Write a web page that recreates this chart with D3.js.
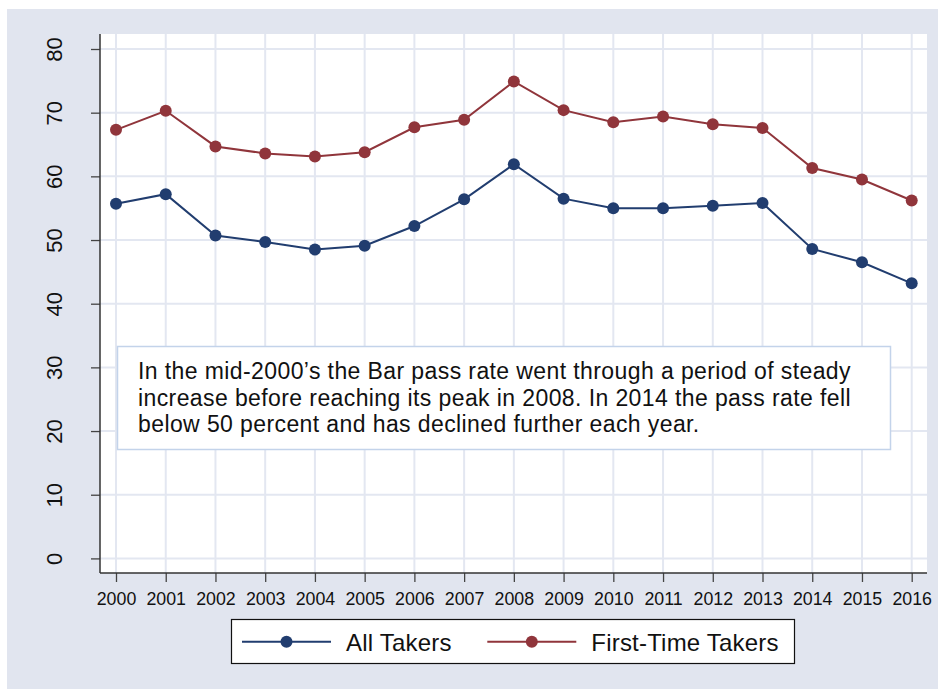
<!DOCTYPE html>
<html>
<head>
<meta charset="utf-8">
<script src="https://cdn.jsdelivr.net/npm/d3@7"></script>
<style>
  body { margin: 0; background: #fff; }
  text { font-family: "Liberation Sans", Arial, sans-serif; fill: #111; }
</style>
</head>
<body>
<div class="module"></div>
<script>
// data
const years = [2000, 2001, 2002, 2003, 2004, 2005, 2006, 2007, 2008, 2009, 2010, 2011, 2012, 2013, 2014, 2015, 2016];
const allTakers = [55.7, 57.2, 50.7, 49.7, 48.5, 49.1, 52.2, 56.4, 61.9, 56.5, 55.0, 55.0, 55.4, 55.8, 48.6, 46.5, 43.2];
const firstTime = [67.3, 70.3, 64.7, 63.6, 63.1, 63.8, 67.7, 68.9, 74.9, 70.4, 68.5, 69.4, 68.2, 67.6, 61.3, 59.5, 56.2];
const yTicks = [0, 10, 20, 30, 40, 50, 60, 70, 80];
const seriesNames = ["All Takers", "First-Time Takers"];
const seriesColors = ["#213d6f", "#90353b"];
const note = [
  "In the mid-2000\u2019s the Bar pass rate went through a period of steady",
  "increase before reaching its peak in 2008. In 2014 the pass rate fell",
  "below 50 percent and has declined further each year."
];

const W = 938, H = 690;
const plot = {left: 100, top: 34, right: 927, bottom: 573};

const svg = d3.select(".module")
  .append("svg")
    .attr("width", W)
    .attr("height", H);

// graph region background
svg.append("rect")
    .attr("x", 7).attr("y", 9)
    .attr("width", W - 7).attr("height", H - 10)
    .attr("fill", "#e1e5ef");

// plot region
svg.append("rect")
    .attr("x", plot.left).attr("y", plot.top)
    .attr("width", plot.right - plot.left)
    .attr("height", plot.bottom - plot.top)
    .attr("fill", "#fff");

const x = d3.scaleLinear()
    .domain([2000, 2016])
    .range([116, 911.7]);

const y = d3.scaleLinear()
    .domain([0, 80])
    .range([558.4, 49]);

// grid lines
svg.append("g")
  .selectAll("line")
  .data(years)
  .enter()
  .append("line")
    .attr("x1", d => x(d)).attr("x2", d => x(d))
    .attr("y1", plot.top).attr("y2", plot.bottom)
    .attr("stroke", "#e3e7f1")
    .attr("stroke-width", 2);

svg.append("g")
  .selectAll("line")
  .data(yTicks)
  .enter()
  .append("line")
    .attr("x1", plot.left).attr("x2", plot.right)
    .attr("y1", d => y(d)).attr("y2", d => y(d))
    .attr("stroke", "#e3e7f1")
    .attr("stroke-width", 2);

// x axis
const xAxis = svg.append("g")
    .attr("transform", "translate(0," + plot.bottom + ")")
    .call(d3.axisBottom(x)
      .tickValues(years)
      .tickFormat(d3.format("d"))
      .tickSize(9)
      .tickPadding(10));
xAxis.select(".domain").remove();
xAxis.selectAll("line").attr("stroke", "#444").attr("stroke-width", 1.3);
xAxis.selectAll("text")
    .attr("font-size", 17.8)
    .attr("fill", "#111")
    .attr("font-family", "Liberation Sans, Arial, sans-serif");

// y axis
const yAxis = svg.append("g")
    .attr("transform", "translate(" + plot.left + ",0)")
    .call(d3.axisLeft(y)
      .tickValues(yTicks)
      .tickSize(9));
yAxis.select(".domain").remove();
yAxis.selectAll("line").attr("stroke", "#444").attr("stroke-width", 1.3);
yAxis.selectAll("text")
    .attr("font-size", 22)
    .attr("fill", "#111")
    .attr("font-family", "Liberation Sans, Arial, sans-serif")
    .attr("text-anchor", "middle")
    .attr("x", 0).attr("dy", 0)
    .attr("transform", "translate(-38,0) rotate(-90)");

// axis lines
svg.append("line")
    .attr("x1", plot.left).attr("x2", plot.left)
    .attr("y1", plot.top).attr("y2", plot.bottom)
    .attr("stroke", "#333").attr("stroke-width", 1.5);
svg.append("line")
    .attr("x1", plot.left).attr("x2", plot.right)
    .attr("y1", plot.bottom).attr("y2", plot.bottom)
    .attr("stroke", "#333").attr("stroke-width", 1.5);

// series
const series = [allTakers, firstTime].map((vals, i) => ({
  name: seriesNames[i],
  color: seriesColors[i],
  values: years.map((yr, j) => ({year: yr, value: vals[j]}))
}));

const line = d3.line()
    .x(d => x(d.year))
    .y(d => y(d.value));

const sg = svg.selectAll(".series")
  .data(series)
  .enter()
  .append("g")
    .attr("class", "series");

sg.append("path")
    .attr("d", d => line(d.values))
    .attr("fill", "none")
    .attr("stroke", d => d.color)
    .attr("stroke-width", 2);

sg.selectAll("circle")
  .data(d => d.values.map(v => ({...v, color: d.color})))
  .enter()
  .append("circle")
    .attr("cx", d => x(d.year))
    .attr("cy", d => y(d.value))
    .attr("r", 6)
    .attr("fill", d => d.color);

// note box
svg.append("rect")
    .attr("x", 117.5).attr("y", 346.5)
    .attr("width", 773).attr("height", 103)
    .attr("fill", "#fff")
    .attr("stroke", "#c3d3ea")
    .attr("stroke-width", 1.5);

svg.append("g")
  .selectAll("text")
  .data(note)
  .enter()
  .append("text")
    .attr("x", 138)
    .attr("y", (d, i) => 379 + i * 26.7)
    .attr("font-size", 23)
    .attr("letter-spacing", 0.4)
    .text(d => d);

// legend
svg.append("rect")
    .attr("x", 231.5).attr("y", 619.5)
    .attr("width", 563).attr("height", 44)
    .attr("fill", "#fff")
    .attr("stroke", "#111")
    .attr("stroke-width", 1.2);

const legendX = [242, 487.3];
const lg = svg.selectAll(".legend")
  .data(series)
  .enter()
  .append("g")
    .attr("class", "legend")
    .attr("transform", (d, i) => "translate(" + legendX[i] + ",641.7)");

lg.append("line")
    .attr("x1", 0).attr("x2", 89)
    .attr("stroke", d => d.color)
    .attr("stroke-width", 2);
lg.append("circle")
    .attr("cx", 44.5)
    .attr("r", 6)
    .attr("fill", d => d.color);
lg.append("text")
    .attr("x", 104)
    .attr("y", 9)
    .attr("font-size", 24)
    .attr("letter-spacing", 0.2)
    .text(d => d.name);
</script>
</body>
</html>
